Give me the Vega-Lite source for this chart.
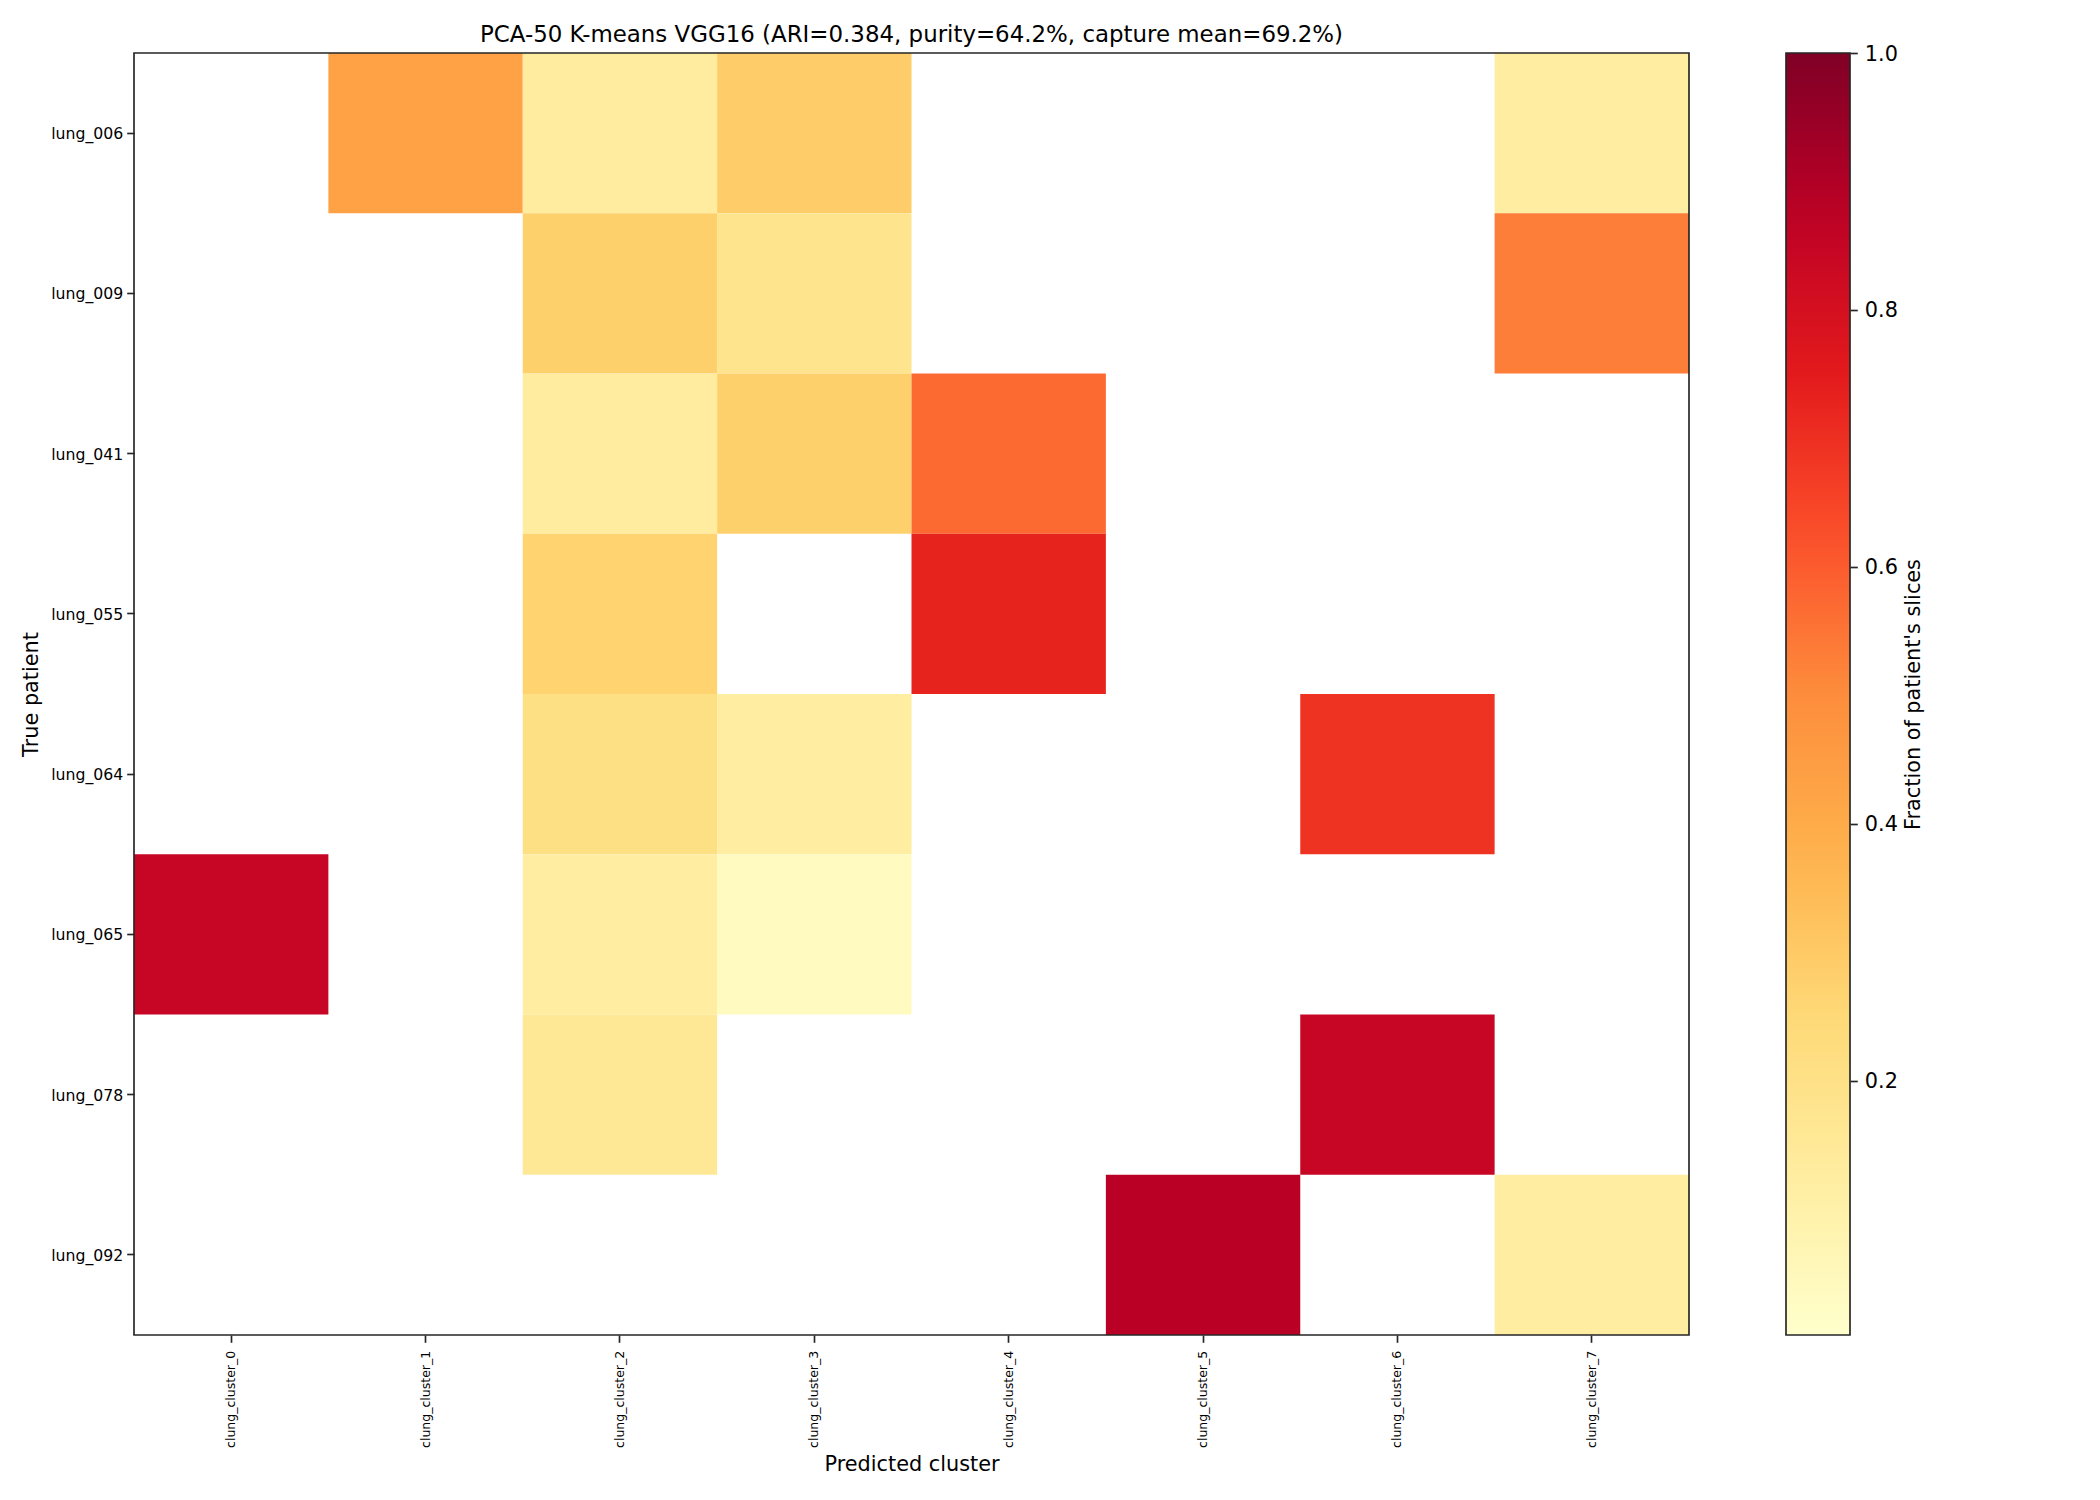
{
"$schema":"https://vega.github.io/schema/vega-lite/v6.json",
"width":1555,"height":1282,
"autosize":{"type":"none"},
"padding":{"left":134,"top":53,"right":411,"bottom":165},
"background":"white",
"config":{"view":{"stroke":null},"font":"DejaVu Sans"},
"title":{"text":"PCA-50 K-means VGG16 (ARI=0.384, purity=64.2%, capture mean=69.2%)","font":"DejaVu Sans","fontSize":22.9,"fontWeight":"normal","color":"#000000","anchor":"middle","offset":-4},
"data":{"values":[
{"patient":"lung_006","cluster":"clung_cluster_1","fraction":0.43},
{"patient":"lung_006","cluster":"clung_cluster_2","fraction":0.13},
{"patient":"lung_006","cluster":"clung_cluster_3","fraction":0.29},
{"patient":"lung_006","cluster":"clung_cluster_7","fraction":0.125},
{"patient":"lung_009","cluster":"clung_cluster_2","fraction":0.28},
{"patient":"lung_009","cluster":"clung_cluster_3","fraction":0.18},
{"patient":"lung_009","cluster":"clung_cluster_7","fraction":0.53},
{"patient":"lung_041","cluster":"clung_cluster_2","fraction":0.13},
{"patient":"lung_041","cluster":"clung_cluster_3","fraction":0.28},
{"patient":"lung_041","cluster":"clung_cluster_4","fraction":0.57},
{"patient":"lung_055","cluster":"clung_cluster_2","fraction":0.27},
{"patient":"lung_055","cluster":"clung_cluster_4","fraction":0.73},
{"patient":"lung_064","cluster":"clung_cluster_2","fraction":0.21},
{"patient":"lung_064","cluster":"clung_cluster_3","fraction":0.125},
{"patient":"lung_064","cluster":"clung_cluster_6","fraction":0.69},
{"patient":"lung_065","cluster":"clung_cluster_0","fraction":0.845},
{"patient":"lung_065","cluster":"clung_cluster_2","fraction":0.12},
{"patient":"lung_065","cluster":"clung_cluster_3","fraction":0.04},
{"patient":"lung_078","cluster":"clung_cluster_2","fraction":0.16},
{"patient":"lung_078","cluster":"clung_cluster_6","fraction":0.845},
{"patient":"lung_092","cluster":"clung_cluster_5","fraction":0.88},
{"patient":"lung_092","cluster":"clung_cluster_7","fraction":0.12}
]},
"layer":[
{"mark":{"type":"rect"},
 "encoding":{
  "x":{"field":"cluster","type":"nominal","scale":{"padding":0,"domain":["clung_cluster_0","clung_cluster_1","clung_cluster_2","clung_cluster_3","clung_cluster_4","clung_cluster_5","clung_cluster_6","clung_cluster_7"]},
   "axis":{"title":"Predicted cluster","titleFont":"DejaVu Sans","titleFontSize":20.8,"titleFontWeight":"normal","titleColor":"#000000","labelAngle":270,"labelFont":"DejaVu Sans","labelFontSize":12.5,"labelColor":"#000000","labelPadding":8,"tickSize":7.3,"tickWidth":1.67,"tickColor":"#262626","domain":false,"grid":false,"titlePadding":7,"labelBaseline":"middle","labelOverlap":false}},
  "y":{"field":"patient","type":"nominal","scale":{"padding":0,"domain":["lung_006","lung_009","lung_041","lung_055","lung_064","lung_065","lung_078","lung_092"]},
   "axis":{"title":"True patient","titleFont":"DejaVu Sans","titleFontSize":20.8,"titleFontWeight":"normal","titleColor":"#000000","labelFont":"DejaVu Sans","labelFontSize":15.7,"labelColor":"#000000","labelPadding":4,"labelOffset":1,"tickSize":7.3,"tickWidth":1.67,"tickColor":"#262626","domain":false,"grid":false,"titlePadding":9,"labelOverlap":false}},
  "color":{"field":"fraction","type":"quantitative",
   "scale":{"type":"linear","interpolate":"rgb","nice":false,"zero":false,"domain":[0.002,0.12675,0.2515,0.37625,0.501,0.62575,0.7505,0.87525,1],"range":["#ffffcc","#ffeda0","#fed976","#feb24c","#fd8d3c","#fc4e2a","#e31a1c","#bd0026","#800026"]},
   "legend":{"orient":"none","legendX":1652,"legendY":0,"direction":"vertical","title":null,"gradientLength":1282,"gradientThickness":64,"gradientStrokeColor":"#262626","gradientStrokeWidth":1.67,"labelOpacity":0,"labelFontSize":1}}
 }},
{"mark":{"type":"point","opacity":0},
 "encoding":{
  "y":{"field":"fraction","type":"quantitative","scale":{"domain":[0.002,1],"nice":false,"zero":false},
   "axis":{"orient":"right","offset":161,"values":[0.2,0.4,0.6,0.8,1.0],"format":".1f","title":"Fraction of patient's slices","titleAngle":270,"titleFont":"DejaVu Sans","titleFontSize":20.8,"titleFontWeight":"normal","titleColor":"#000000","labelFont":"DejaVu Sans","labelFontSize":20.8,"labelColor":"#000000","labelPadding":7,"labelOffset":1,"tickSize":7.3,"tickWidth":1.67,"tickColor":"#262626","domain":false,"grid":false,"titlePadding":26}}
 }},
{"data":{"values":[{"frame":"plot"}]},
 "mark":{"type":"rect","fill":null,"stroke":"#262626","strokeWidth":1.67},
 "encoding":{}}
],
"resolve":{"scale":{"y":"independent"},"axis":{"y":"independent"}}
}
